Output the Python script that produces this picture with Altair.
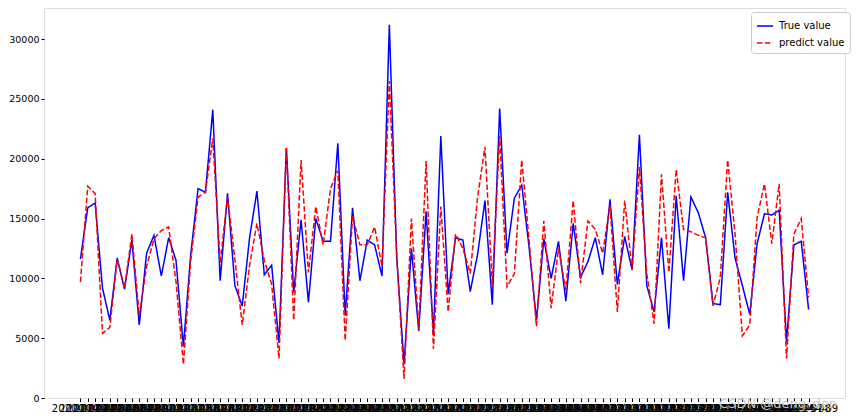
import altair as alt
import pandas as pd

# x categories (dates of the test samples)
dates = [d.strftime("%Y-%m-%d") for d in pd.date_range("2020-01-01", periods=100, freq="D")]

true_value = [
    11600, 15900, 16300, 9200, 6500, 11700, 9100, 13200, 6100, 12100,
    13600, 10200, 13400, 11500, 4300, 12000, 17500, 17200, 24100, 9800,
    17100, 9400, 7700, 13400, 17300, 10300, 11100, 4600, 20900, 8800,
    14900, 8000, 15000, 13100, 13100, 21300, 6900, 15900, 9800, 13200,
    12800, 10200, 31200, 11800, 2800, 12500, 5600, 15600, 5400, 21900,
    8700, 13400, 13200, 8900, 12000, 16500, 7800, 24200, 12100, 16700,
    17800, 12600, 6500, 13300, 10000, 13100, 8100, 14600, 10100, 11400,
    13400, 10300, 16600, 9500, 13500, 10700, 22000, 9400, 7200, 13400,
    5800, 16900, 9800, 16800, 15500, 13400, 7900, 7800, 17200, 11700,
    9400, 7000, 12900, 15400, 15300, 15700, 4700, 12800, 13100, 7400,
]

predict_value = [
    9700, 17700, 17100, 5400, 5900, 11600, 9200, 13700, 6900, 11000,
    13300, 14000, 14300, 9700, 2800, 11500, 16800, 17200, 21700, 11300,
    16800, 11600, 6100, 11100, 14600, 11500, 9500, 3300, 21000, 6500,
    19900, 10500, 16000, 12800, 17500, 19000, 4800, 15200, 12800, 12800,
    14300, 11000, 26500, 12000, 1600, 15000, 5800, 19800, 4100, 16000,
    7200, 13700, 12500, 10400, 16800, 21000, 9500, 21900, 9300, 10400,
    19900, 13200, 6000, 14800, 7500, 12500, 9000, 16500, 9600, 14800,
    14100, 12100, 16100, 7200, 16500, 10700, 19300, 10400, 6200, 18700,
    10500, 19100, 14100, 13900, 13600, 13400, 7700, 10100, 19900, 13700,
    5200, 6100, 15100, 17900, 12900, 17900, 3300, 13700, 15000, 8400,
]

series_names = ["True value", "predict value"]
y_ticks = [0, 5000, 10000, 15000, 20000, 25000, 30000]

rows = []
for i, (d, t, p) in enumerate(zip(dates, true_value, predict_value)):
    rows.append({"idx": i, "date": d, "value": t, "series": series_names[0]})
    rows.append({"idx": i, "date": d, "value": p, "series": series_names[1]})
df = pd.DataFrame(rows)

font = "DejaVu Sans"
date_array = "[" + ",".join("'" + d + "'" for d in dates) + "]"
n = len(dates)
margin = 0.05 * (n - 1)

legend_kw = dict(
    title=None, orient="none", legendX=707, legendY=4,
    symbolType="stroke", symbolSize=260, symbolStrokeWidth=1.5,
    labelFont=font, labelFontSize=10, labelColor="black",
    fillColor="white", strokeColor="#cccccc", cornerRadius=3,
    padding=5, rowPadding=3, labelOffset=5,
)

lines = alt.Chart(df).mark_line(strokeWidth=1.5).encode(
    x=alt.X(
        "idx:Q",
        scale=alt.Scale(domain=[-margin, n - 1 + margin], nice=False, zero=False),
        axis=alt.Axis(
            title=None, values=list(range(n)), labelExpr=date_array + "[datum.value]",
            labelAngle=0, labelOverlap=False, labelFlush=False, labelBound=False,
            labelFontSize=10, labelColor="black", labelFont=font,
            tickSize=3.5, tickColor="black", domain=False, labelPadding=2, grid=False,
        ),
    ),
    y=alt.Y(
        "value:Q",
        scale=alt.Scale(domain=[0, 32600], nice=False, zero=False),
        axis=alt.Axis(
            title=None, values=y_ticks, format="d", grid=False, labelFontSize=9.5,
            labelColor="black", labelFont=font, tickSize=3, tickColor="black",
            domain=False, labelPadding=2,
        ),
    ),
    color=alt.Color(
        "series:N",
        scale=alt.Scale(domain=series_names, range=["blue", "red"]),
        legend=alt.Legend(**legend_kw),
    ),
    strokeDash=alt.StrokeDash(
        "series:N",
        scale=alt.Scale(domain=series_names, range=[[1, 0], [5.5, 2.4]]),
        legend=alt.Legend(**legend_kw),
    ),
    detail="series:N",
)

watermark = alt.Chart(pd.DataFrame({"t": ["CSDN @deng_den"]})).mark_text(
    align="right", baseline="top", fontSize=13, color="#c8c8c8", font=font
).encode(text="t:N", x=alt.value(793), y=alt.value(390))

chart = (
    alt.layer(lines, watermark)
    .properties(
        width=801,
        height=390,
        padding={"left": 36, "top": 0, "right": 8, "bottom": 21},
        autosize=alt.AutoSizeParams(type="none"),
    )
    .configure_view(stroke="#333333", strokeWidth=1)
    .configure(background="white")
)

chart.save("out.html", embed_options={"renderer": "svg", "actions": False})
